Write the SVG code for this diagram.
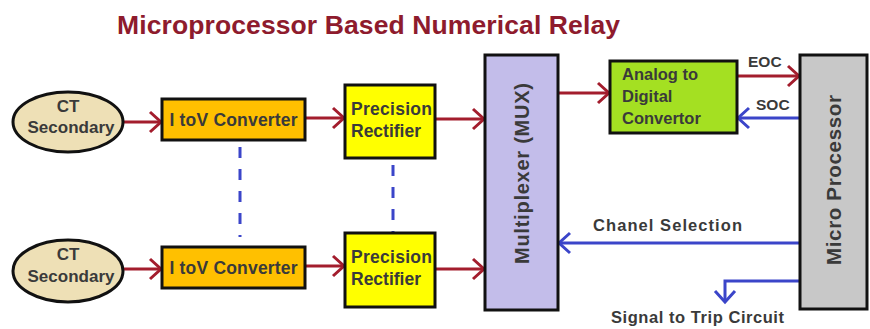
<svg xmlns="http://www.w3.org/2000/svg" width="870" height="329" viewBox="0 0 870 329">
<style>
.box{stroke:#111;stroke-width:3}
.t{font-family:"Liberation Sans",Arial,sans-serif;font-weight:bold;fill:#3a3a3a}
.red{stroke:#a31d2d;stroke-width:3;fill:none}
.blue{stroke:#3b45c9;stroke-width:3;fill:none}
.dash{stroke:#3b45c9;stroke-width:3;stroke-dasharray:11 11;fill:none}
</style>
<defs>
<marker id="ar" markerUnits="userSpaceOnUse" markerWidth="16" markerHeight="24" viewBox="0 0 16 24" refX="13" refY="12" orient="auto" overflow="visible">
<path d="M2,2 L13,12 L2,22" fill="none" stroke="#a31d2d" stroke-width="3"/>
</marker>
<marker id="ab" markerUnits="userSpaceOnUse" markerWidth="16" markerHeight="24" viewBox="0 0 16 24" refX="13" refY="12" orient="auto" overflow="visible">
<path d="M2,2 L13,12 L2,22" fill="none" stroke="#3b45c9" stroke-width="3"/>
</marker>
</defs>
<rect width="870" height="329" fill="#fff"/>
<text x="117" y="34" font-family="Liberation Sans,Arial,sans-serif" font-weight="bold" font-size="26.5" fill="#8e1b2d" textLength="503">Microprocessor Based Numerical Relay</text>

<g id="connectors">
<line class="red" x1="123" y1="122" x2="161" y2="122" marker-end="url(#ar)"/>
<line class="red" x1="305" y1="118" x2="344" y2="118" marker-end="url(#ar)"/>
<line class="red" x1="435" y1="119" x2="484" y2="119" marker-end="url(#ar)"/>
<line class="red" x1="123" y1="269" x2="161" y2="269" marker-end="url(#ar)"/>
<line class="red" x1="305" y1="266" x2="344" y2="266" marker-end="url(#ar)"/>
<line class="red" x1="435" y1="269" x2="484" y2="269" marker-end="url(#ar)"/>
<line class="red" x1="558" y1="93" x2="609" y2="93" marker-end="url(#ar)"/>
<line class="red" x1="737" y1="76" x2="799" y2="76" marker-end="url(#ar)"/>
<line class="blue" x1="800" y1="118" x2="738" y2="118" marker-end="url(#ab)"/>
<line class="blue" x1="800" y1="243" x2="559" y2="243" marker-end="url(#ab)"/>
<polyline class="blue" points="800,281 725,281 725,302" marker-end="url(#ab)"/>
<line class="dash" x1="240" y1="147" x2="240" y2="237"/>
<line class="dash" x1="393" y1="165" x2="393" y2="232"/>
<text class="t" x="748" y="67" font-size="15.5">EOC</text>
<text class="t" x="756" y="110" font-size="15.5">SOC</text>
<text class="t" x="593" y="231" font-size="16.5" textLength="149">Chanel Selection</text>
<text class="t" x="611" y="323" font-size="16.5" textLength="173">Signal to Trip Circuit</text>
</g>

<g id="ct1">
<ellipse class="box" cx="68" cy="122" rx="55" ry="30" fill="#eee0b6"/>
<text class="t" x="68" y="112" font-size="17" text-anchor="middle">CT</text>
<text class="t" x="71" y="133" font-size="17" text-anchor="middle">Secondary</text>
</g>
<g id="itov1">
<rect class="box" x="162" y="99" width="143" height="41" fill="#ffc000"/>
<text class="t" x="233.5" y="126" font-size="17.5" text-anchor="middle" textLength="128">I toV Converter</text>
</g>
<g id="prec1">
<rect class="box" x="345" y="85" width="90" height="73" fill="#ffff00"/>
<text class="t" x="351" y="115" font-size="17.5" textLength="81">Precision</text>
<text class="t" x="351" y="137" font-size="17.5">Rectifier</text>
</g>
<g id="ct2">
<ellipse class="box" cx="68" cy="271" rx="55" ry="31" fill="#eee0b6"/>
<text class="t" x="68" y="260" font-size="17" text-anchor="middle">CT</text>
<text class="t" x="71" y="282" font-size="17" text-anchor="middle">Secondary</text>
</g>
<g id="itov2">
<rect class="box" x="162" y="247" width="143" height="41" fill="#ffc000"/>
<text class="t" x="233.5" y="274" font-size="17.5" text-anchor="middle" textLength="128">I toV Converter</text>
</g>
<g id="prec2">
<rect class="box" x="345" y="233" width="90" height="74" fill="#ffff00"/>
<text class="t" x="351" y="263" font-size="17.5" textLength="81">Precision</text>
<text class="t" x="351" y="285" font-size="17.5">Rectifier</text>
</g>
<g id="mux">
<rect class="box" x="485" y="55" width="73" height="255" fill="#c3bdea"/>
<text class="t" transform="translate(529,264) rotate(-90)" font-size="20" textLength="181">Multiplexer (MUX)</text>
</g>
<g id="adc">
<rect class="box" x="610" y="61" width="127" height="72" fill="#a4e022"/>
<text class="t" x="622" y="80" font-size="16.5">Analog to</text>
<text class="t" x="622" y="102" font-size="16.5">Digital</text>
<text class="t" x="622" y="124" font-size="16.5">Convertor</text>
</g>
<g id="mp">
<rect class="box" x="800" y="55" width="67" height="254" fill="#c8c8c8"/>
<text class="t" transform="translate(841,265) rotate(-90)" font-size="20.5" textLength="170">Micro Processor</text>
</g>
</svg>
